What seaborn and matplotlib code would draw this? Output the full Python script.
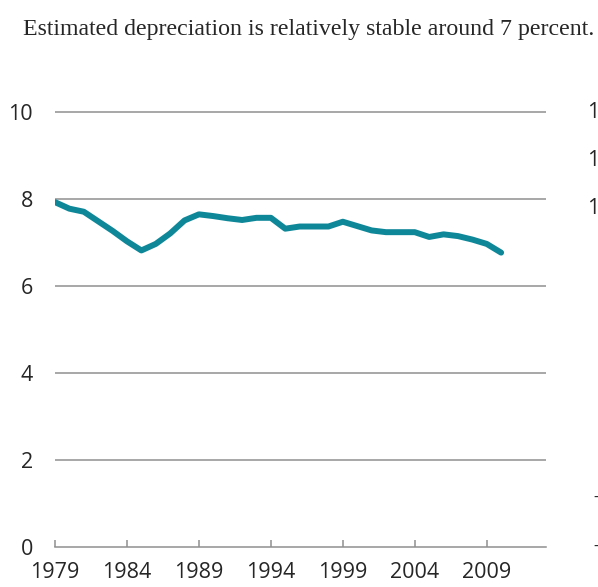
import numpy as np
import pandas as pd
import matplotlib
matplotlib.use('Agg')
import matplotlib.pyplot as plt
import seaborn as sns

# Data
years = list(range(1979, 2011))
depreciation = [7.92, 7.77, 7.70, 7.48, 7.26, 7.02, 6.81, 6.96, 7.20, 7.50,
                7.64, 7.60, 7.55, 7.51, 7.56, 7.56, 7.31, 7.36, 7.36, 7.36,
                7.47, 7.37, 7.27, 7.23, 7.23, 7.23, 7.12, 7.18, 7.14, 7.06,
                6.96, 6.76]
x_ticks = [1979, 1984, 1989, 1994, 1999, 2004, 2009]
y_ticks = [0, 2, 4, 6, 8, 10]
title = "Estimated depreciation is relatively stable around 7 percent."

df = pd.DataFrame({'year': years, 'rate': depreciation})

sns.set_style('white')
plt.rcParams['font.family'] = ['Open Sans', 'DejaVu Sans']

line_color = '#0E8799'
grid_color = '#8F8F8F'

fig = plt.figure(figsize=(5.98, 5.87), dpi=100)
ax = fig.add_axes([0.092, 0.0687, 0.8206, 0.7781])

sns.lineplot(data=df, x='year', y='rate', ax=ax, color=line_color,
             linewidth=4.3, solid_capstyle='round')

ax.set_xlim(1979, 2013.1)
ax.set_ylim(0, 10.5)
ax.set_xticks(x_ticks)
ax.set_yticks(y_ticks)
ax.set_xlabel('')
ax.set_ylabel('')

for y in y_ticks[1:]:
    ax.axhline(y, color=grid_color, linewidth=1.1, zorder=0)

for side in ['top', 'right', 'left']:
    ax.spines[side].set_visible(False)
ax.spines['bottom'].set_color(grid_color)
ax.spines['bottom'].set_linewidth(1.1)

ax.tick_params(axis='x', direction='in', length=5, width=1.1, color=grid_color,
               labelsize=15.5, pad=11, bottom=True)
ax.tick_params(axis='y', length=0, labelsize=15.5, pad=16)

fig.text(309 / 598, 1 - 35 / 587, title, ha='center', va='baseline',
         fontsize=17.2, family=['Liberation Serif', 'DejaVu Serif'])

# edge of the neighbouring chart, cut off on the right
for ypix in [112, 160, 208]:
    fig.text(587 / 598, 1 - ypix / 587, '1', ha='left', va='center', fontsize=15.5)
for ypix in [498, 547]:
    fig.text(593 / 598, 1 - ypix / 587, '-', ha='left', va='center', fontsize=12)

fig.savefig('out.png', dpi=100)
